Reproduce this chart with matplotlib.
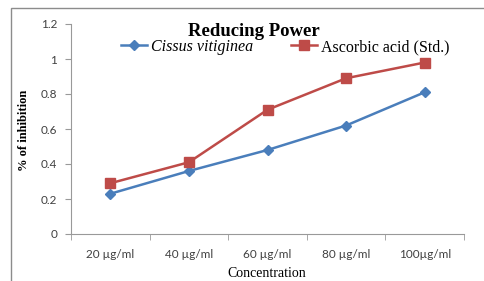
import matplotlib
matplotlib.use("Agg")
import matplotlib.pyplot as plt
from matplotlib.patches import Rectangle

categories = ["20 µg/ml", "40 µg/ml", "60 µg/ml", "80 µg/ml", "100µg/ml"]
cissus = [0.23, 0.36, 0.48, 0.62, 0.81]
ascorbic = [0.29, 0.41, 0.71, 0.89, 0.98]
yticks = [0, 0.2, 0.4, 0.6, 0.8, 1, 1.2]
ytick_labels = ["0", "0.2", "0.4", "0.6", "0.8", "1", "1.2"]

W, H = 484, 281
fig = plt.figure(figsize=(W/100, H/100), dpi=100)
fig.patch.set_facecolor("white")

# outer chart frame (cropped on right/bottom)
fig.add_artist(Rectangle((11/W, -0.1), 1.2, (1 - 8/H) + 0.1, transform=fig.transFigure,
                         fill=False, edgecolor="#8c8c8c", linewidth=1.0))

ax = fig.add_axes([71/W, 1 - 234/H, (464-71)/W, (234-24)/H])
x = list(range(len(categories)))
ax.plot(x, cissus, color="#4A7EBB", linewidth=1.8, marker="D", markersize=5,
        label="Cissus vitiginea")
ax.plot(x, ascorbic, color="#BE4B48", linewidth=1.8, marker="s", markersize=7,
        label="Ascorbic acid (Std.)")

ax.set_xlim(-0.5, len(categories) - 0.5)
ax.set_ylim(0, 1.2)
ax.set_yticks(yticks)
ax.set_yticklabels(ytick_labels, fontsize=8.5, color="#404040", family="Lato")
ax.set_xticks(x)
ax.set_xticklabels(categories, fontsize=8.5, color="#404040", family="Lato")
ax.set_xticks([i - 0.5 for i in range(len(categories) + 1)], minor=True)
ax.tick_params(axis="x", which="major", length=0, pad=11)
ax.tick_params(axis="x", which="minor", length=4, color="#999999", direction="out")
ax.tick_params(axis="y", length=4, color="#999999", direction="out", pad=6)
for s in ["top", "right"]:
    ax.spines[s].set_visible(False)
for s in ["left", "bottom"]:
    ax.spines[s].set_color("#999999")
    ax.spines[s].set_linewidth(0.8)

fig.text(254/W, 1 - 31/H, "Reducing Power", ha="center", va="center",
         fontsize=13.5, fontweight="bold", family="Liberation Serif")

leg = ax.legend(loc="center", bbox_to_anchor=((285 - 71)/(464 - 71), (234 - 47)/(234 - 24)),
                ncol=2, frameon=False, prop={"family": "Liberation Serif", "size": 11.5},
                handlelength=1.6, handletextpad=0.25, columnspacing=2.4)
leg.get_texts()[0].set_fontstyle("italic")

fig.text(24/W, 1 - 130/H, "% of inhibition", rotation=90, ha="center", va="center",
         fontsize=9, fontweight="bold", family="Liberation Serif")
fig.text(267/W, 1 - 280/H, "Concentration", ha="center", va="bottom",
         fontsize=10, family="Liberation Serif")

fig.savefig("out.png", dpi=100)
